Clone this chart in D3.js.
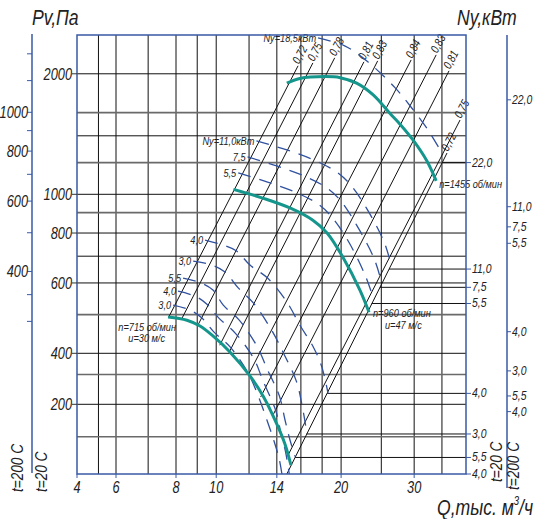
<!DOCTYPE html>
<html><head><meta charset="utf-8">
<script src="https://cdn.jsdelivr.net/npm/d3@7"></script>
<style>
body{margin:0;background:#fff}
text{font-family:"Liberation Sans",sans-serif;font-style:italic;fill:#222}
</style></head><body><div id="chart"></div>
<script>
let w = 535, h = 519;

// axes values
let qTicks = [4,6,8,10,14,20,30];
let qGrid = [5,6,7,8,9,10,12,14,16,18,20,25,30,35];
let pTicks = [200,400,600,800,1000,2000];
let pGridDark = [200,400,600,700,800,1000,1400,2000];
let pGridGray = [100,300,500,900,1200,1600];
let p200Ticks = [1400,1200,1000,900,800,700,600,500,400,350,300];
let p200Labels = [1000,800,600,400];
let k200 = 0.624;

// fan curves (Q thous m3/h, Pv Pa)
let n1455 = [[14.8,1895],[15.9,1947],[18.3,1968],[19.9,1956],[21.8,1895],[23.9,1771],[26.2,1594],[27.7,1499],[29.8,1367],[32.2,1211],[33.9,1080]];
let n960 = [[11.0,1029],[13.0,977],[15.1,923],[17.1,861],[18.5,800],[20.2,696],[22.2,576],[23.35,507]];
let n715 = [[7.70,493],[8.5,484],[9.14,468],[9.82,442],[10.79,403],[12.06,294],[12.97,224],[14.0,131],[14.65,87],[15.14,59]];
let speedNames = ["n=1455 об/мин","n=960 об/мин","n=715 об/мин"];
let speedU = ["","u=47 м/с","u=30 м/с"];

// efficiency rays [Qtop,Ptop,Qbottom,Pbottom]
let rays = [[15.75,2094,7.72,492],[17.1,2129,8.25,487],[19.3,2192,9.04,471],[22.7,2142,10.2,419],[24.5,2154,10.74,402],
  [29.5,2166,11.95,298],[33.9,2230,12.8,221],[36.4,2034,13.67,156],[38.7,1533,14.9,71],[36.0,1268,14.8,50]];
let etaLabels = ["0,72","0,75","0,78","0,81","0,83","0,84","0,83","0,81","0,75","0,72"];

// power lines Ny, kW
let powerNames = ["Ny=18,5кВт","Ny=11,0кВт","7,5","5,5","4,0","3,0","5,5","4,0","3,0"];
let powerLines = [
  [[17.6,2459],[20.4,2349],[23.2,2142],[27.0,1844],[29.6,1643],[32.4,1448],[35.2,1254]],
  [[12.5,1359],[14.8,1291],[17.2,1218],[19.5,1137],[21.1,1055],[23.1,918],[25.4,759],[26.5,657]],
  [[11.9,1240],[14.0,1177],[16.3,1111],[18.5,1037],[20.0,961],[21.8,837],[24.0,692],[25.1,596]],
  [[11.3,1131],[13.3,1073],[15.5,1013],[17.6,945],[19.0,877],[20.8,764],[22.8,631],[24.0,544]],
  [[9.4,768],[10.4,746],[11.2,721],[12.06,665],[13.3,617],[14.8,538],[15.9,471],[17.2,412],[18.0,328],[18.6,232]],
  [[8.8,680],[9.77,665],[10.5,639],[11.3,583],[12.3,534],[13.6,457],[14.6,391],[15.6,274],[16.1,197],[16.55,106]],
  [[8.32,617],[9.19,600],[9.82,576],[10.4,528],[11.35,485],[12.5,419],[13.3,319],[14.2,224],[14.65,143],[15.06,94],[15.5,69]],
  [[8.09,572],[8.89,556],[9.5,531],[10.15,490],[11.1,450],[12.3,375],[13.0,271],[13.9,177],[14.3,111],[14.7,75],[15.0,50]],
  [[7.89,528],[8.65,513],[9.24,490],[9.88,452],[10.8,415],[11.9,310],[12.6,227],[13.3,137],[13.8,91],[14.2,65],[14.4,50]]
];

// right axis read-outs
let nyLabels = ["22,0","11,0","7,5","5,5","4,0","3,0","5,5","4,0"];
let nyP20 = [1200,650,585,533,232,106,68,50];
let nyP200 = [1722,931,829,754,453,315,224,171];
let nyFromQ = [35.0,26.1,24.8,23.7,18.5,16.5,15.5,15.0];

let blue = "#3a5aa6", teal = "#15968c", dash = "#30519e";

let svg = d3.select("#chart").append("svg").attr("width", w).attr("height", h);

let x = d3.scaleLog().domain([4,6,8,40]).range([77,116,176,466]);
let y = d3.scaleLog().domain([50,100,200,400,1000,2500]).range([474,436.7,404.3,353.3,194.3,35]);
let [x0, x1] = [x(4), x(40)];
let [yb, yt] = [y(50), y(2500)];

// narrow italic text, like the drawing font
function label(px, py, str, size, anchor, rot) {
  let g = svg.append("g").attr("transform", `translate(${px},${py}) rotate(${rot || 0}) scale(0.8,1)`);
  g.append("text").attr("font-size", size).attr("text-anchor", anchor || "start").text(str);
  return g;
}

// grid
svg.selectAll(".vg").data(qGrid).enter().append("line")
  .attr("x1", d => x(d)).attr("x2", d => x(d)).attr("y1", yt).attr("y2", yb)
  .attr("stroke", "#111").attr("stroke-width", 1);
svg.selectAll(".hgg").data(pGridGray).enter().append("line")
  .attr("x1", x0).attr("x2", x1).attr("y1", d => y(d)).attr("y2", d => y(d))
  .attr("stroke", "#6a6a6a").attr("stroke-width", 1.6);
svg.selectAll(".hgd").data(pGridDark).enter().append("line")
  .attr("x1", x0).attr("x2", x1).attr("y1", d => y(d)).attr("y2", d => y(d))
  .attr("stroke", "#111").attr("stroke-width", 1);

// read-out lines to the right axis
svg.selectAll(".ro").data(nyP20.slice(0, 7)).enter().append("line")
  .attr("x1", (d,i) => x(nyFromQ[i])).attr("x2", x1)
  .attr("y1", d => y(d)).attr("y2", d => y(d))
  .attr("stroke", "#111").attr("stroke-width", 1);

// rays
svg.selectAll(".ray").data(rays).enter().append("line")
  .attr("x1", d => x(d[0])).attr("y1", d => y(d[1]))
  .attr("x2", d => x(d[2])).attr("y2", d => y(d[3]))
  .attr("stroke", "#111").attr("stroke-width", 1);
rays.forEach((d,i) => label(x(d[0]) + 1, y(d[1]) - 1, etaLabels[i], 12, "start", -62));

// power lines
let line = d3.line().x(d => x(d[0])).y(d => y(d[1])).curve(d3.curveCatmullRom);
svg.selectAll(".pw").data(powerLines).enter().append("path")
  .attr("d", line).attr("fill", "none").attr("stroke", dash)
  .attr("stroke-width", 1.3).attr("stroke-dasharray", "13,9");
powerLines.forEach((d,i) => label(x(d[0][0]) - 2, y(d[0][1]) + 4, powerNames[i], 11.5, "end"));

// fan curves
let curves = [n1455, n960, n715];
svg.selectAll(".fan").data(curves).enter().append("path")
  .attr("d", line).attr("fill", "none").attr("stroke", teal).attr("stroke-width", 3);
let e1 = n1455[n1455.length-1], e2 = n960[n960.length-1], s3 = n715[0];
label(x(e1[0]) + 3, y(e1[1]) + 7, speedNames[0], 11.5);
label(x(e2[0]) + 4, y(e2[1]) + 5, speedNames[1], 11.5);
label(x(e2[0]) + 16, y(e2[1]) + 17, speedU[1], 11.5);
label(x(s3[0]) + 8, y(s3[1]) + 14, speedNames[2], 11.5, "end");
label(x(s3[0]) - 3, y(s3[1]) + 25, speedU[2], 11.5, "end");

// frame
svg.append("rect").attr("x", x0).attr("y", yt).attr("width", x1 - x0).attr("height", yb - yt)
  .attr("fill", "none").attr("stroke", blue).attr("stroke-width", 1.5);

// left inner axis (t=20 C)
svg.selectAll(".pt").data(pTicks).enter().append("line")
  .attr("x1", x0 - 5).attr("x2", x0).attr("y1", d => y(d)).attr("y2", d => y(d)).attr("stroke", "#333");
pTicks.forEach(d => label(x0 - 5, y(d) + 6, d, 16, "end"));

// left outer axis (t=200 C)
let xo = 32;
svg.append("line").attr("x1", xo).attr("x2", xo).attr("y1", yt - 1).attr("y2", 473).attr("stroke", blue).attr("stroke-width", 1.5);
svg.selectAll(".p2t").data(p200Ticks).enter().append("line")
  .attr("x1", xo - 5).attr("x2", xo).attr("y1", d => y(d / k200)).attr("y2", d => y(d / k200)).attr("stroke", blue);
p200Labels.forEach(d => label(xo - 4, y(d / k200) + 6, d, 16, "end"));

// bottom axis
svg.selectAll(".qt").data(qTicks).enter().append("line")
  .attr("x1", d => x(d)).attr("x2", d => x(d)).attr("y1", yb).attr("y2", yb + 4).attr("stroke", blue);
qTicks.forEach(d => label(x(d), yb + 19, d, 16, "middle"));

// right axes
svg.selectAll(".nt").data(nyP20).enter().append("line")
  .attr("x1", x1).attr("x2", x1 + 5).attr("y1", d => y(d)).attr("y2", d => y(d)).attr("stroke", blue);
nyP20.forEach((d,i) => label(x1 + 6, y(d) + 4, nyLabels[i], 13));
let xr = 507;
svg.append("line").attr("x1", xr).attr("x2", xr).attr("y1", yt).attr("y2", 488).attr("stroke", blue).attr("stroke-width", 1.5);
svg.selectAll(".n2t").data(nyP200).enter().append("line")
  .attr("x1", xr).attr("x2", xr + 4).attr("y1", d => y(d)).attr("y2", d => y(d)).attr("stroke", blue);
nyP200.forEach((d,i) => label(xr + 5, y(d) + 4, nyLabels[i], 13));

// titles
label(32, 25, "Pv,Па", 22);
label(457, 25, "Ny,кВт", 22);
let qg = svg.append("g").attr("transform", "translate(437,515) scale(0.8,1)");
let qt = qg.append("text").attr("font-size", 22);
qt.append("tspan").text("Q,тыс. м");
qt.append("tspan").attr("dy", -10).attr("font-size", 12).text("3");
qt.append("tspan").attr("dy", 10).text("/ч");

// temperature notes
let tLab = [["t=200 C", 23, 492], ["t=20 C", 47, 492], ["t=20 C", 502, 482], ["t=200 C", 519, 490]];
tLab.forEach(d => label(d[1], d[2], d[0], 17, "start", -90));
</script></body></html>
